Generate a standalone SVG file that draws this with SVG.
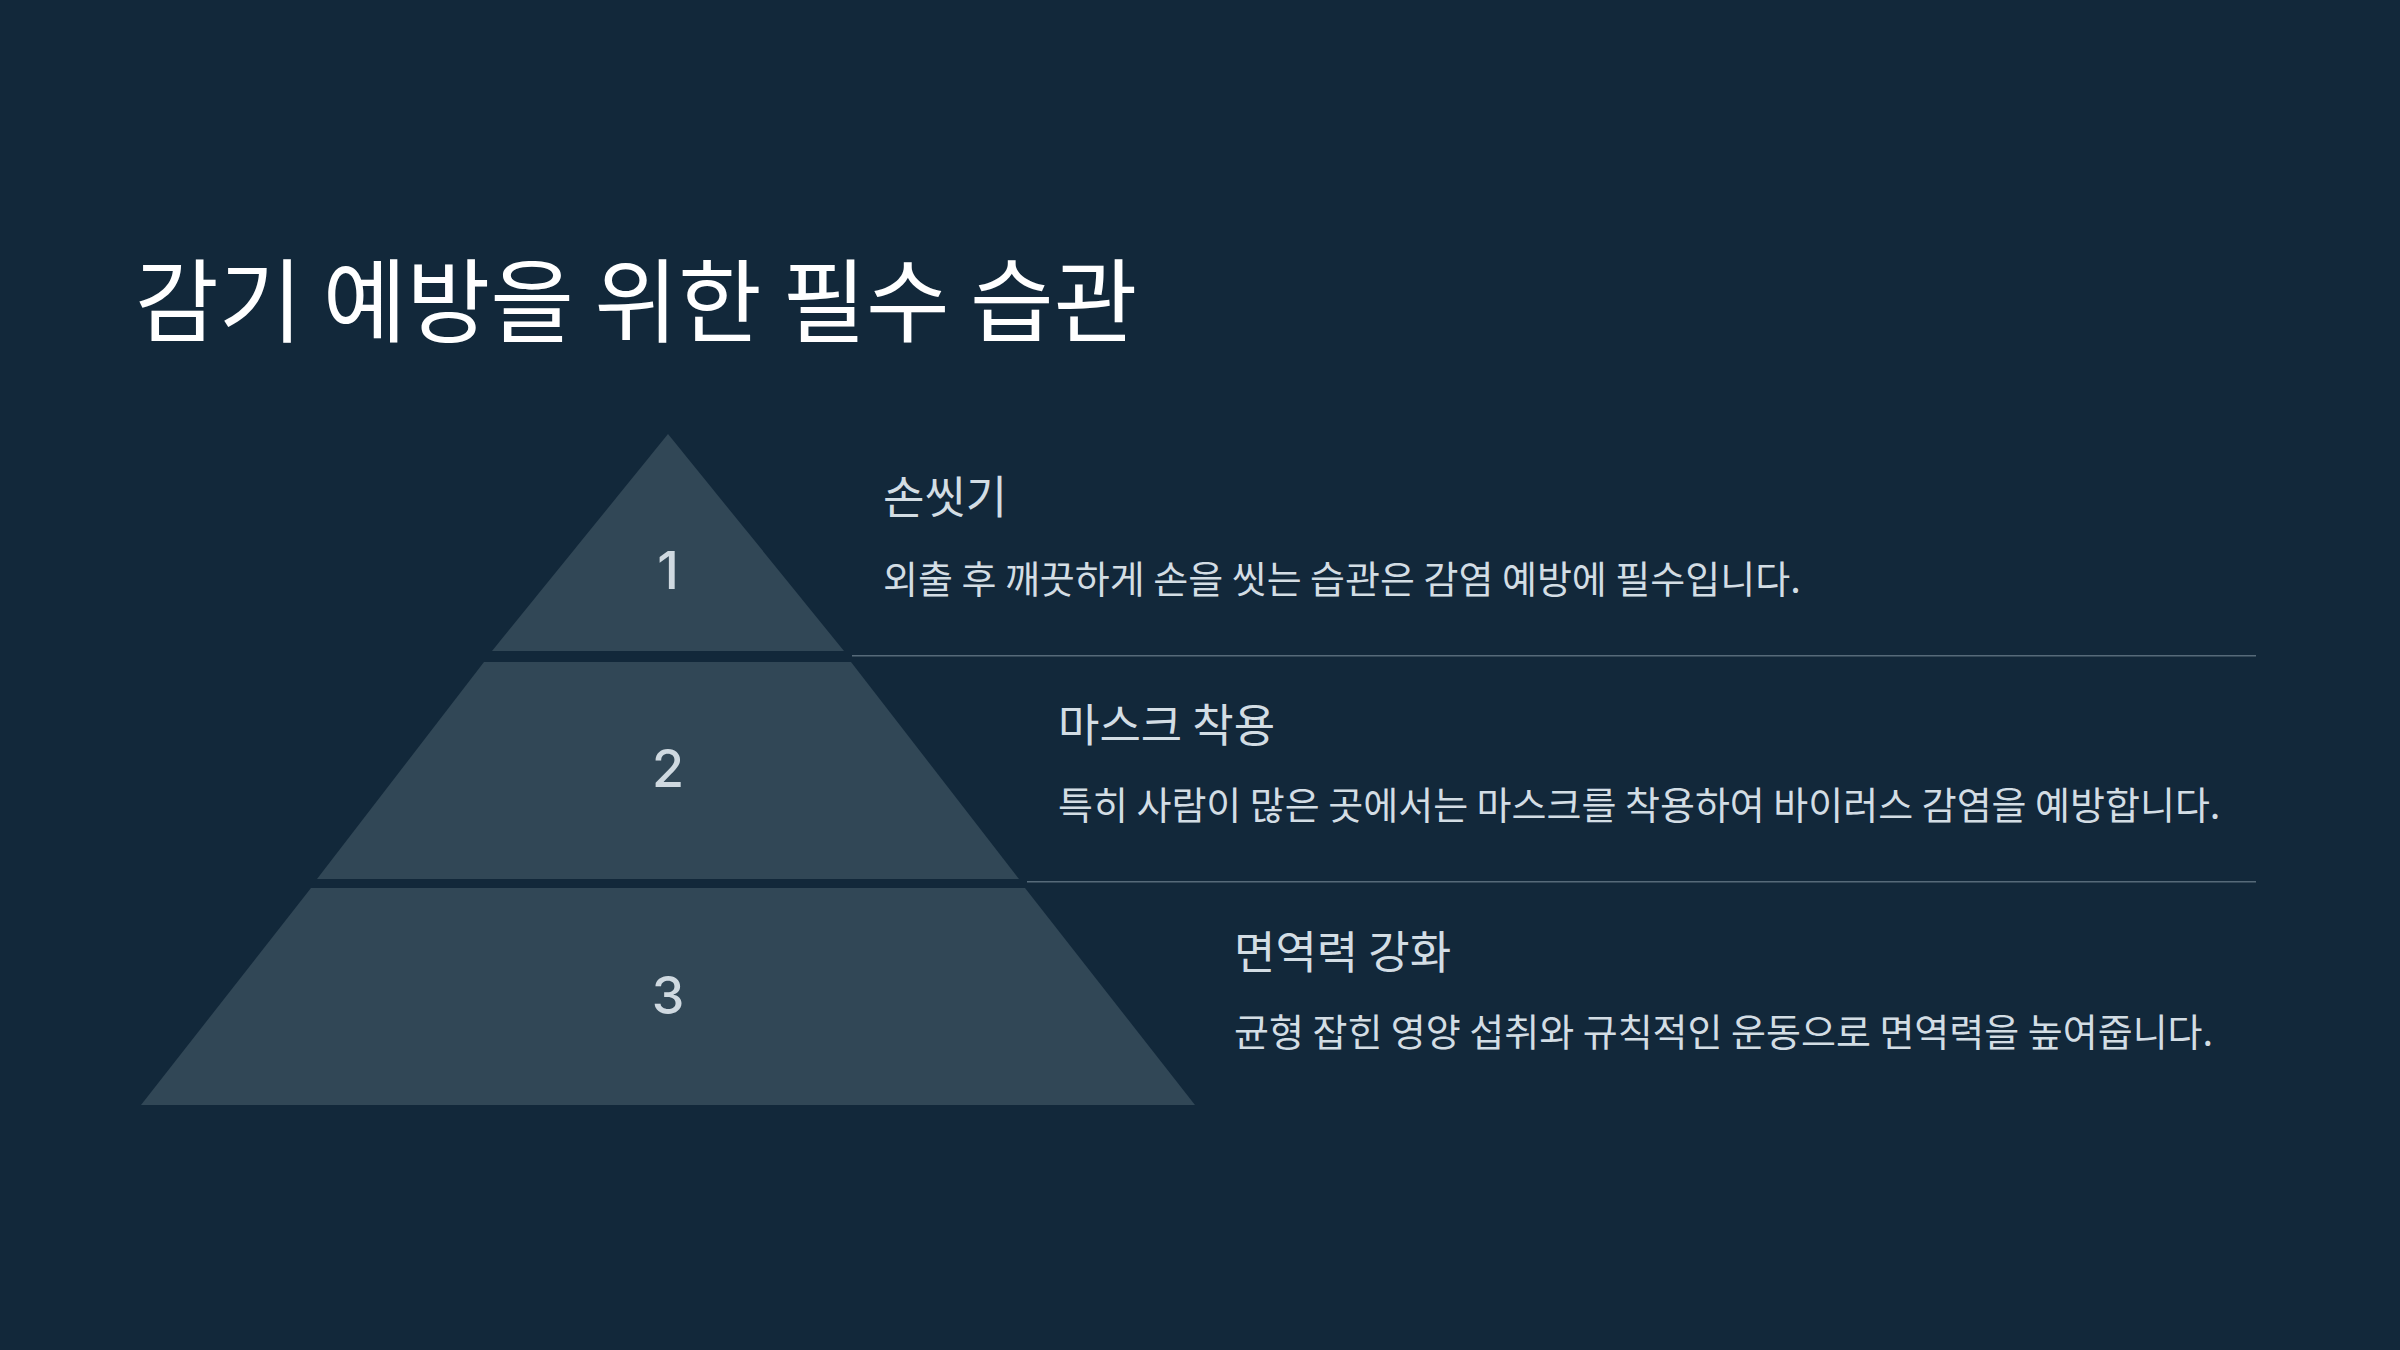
<svg xmlns="http://www.w3.org/2000/svg" width="2400" height="1350" viewBox="0 0 2400 1350">
<style>
.bg{fill:#12283a}
.tier{fill:#314756}
.num{font-family:Inter,"Noto Sans",sans-serif;font-size:52px;font-weight:500;fill:#cfd9e0;text-anchor:middle}
.title{font-family:"Noto Sans CJK KR","Noto Sans",sans-serif;font-size:91px;fill:#ffffff}
.head{font-family:"Noto Sans CJK KR","Noto Sans",sans-serif;font-size:45px;fill:#d3dde4}
.desc{font-family:"Noto Sans CJK KR","Noto Sans",sans-serif;font-size:38px;fill:#d3dde4}
.sep{stroke:#566a79;stroke-width:1.5;fill:none}
</style>
<rect class="bg" x="0" y="0" width="2400" height="1350"/>
<text class="title" x="135" y="335">감기 예방을 위한 필수 습관</text>
<g id="connectors">
<line class="sep" x1="852" y1="655.7" x2="2256" y2="655.7"/>
<line class="sep" x1="1027" y1="881.7" x2="2256" y2="881.7"/>
</g>
<g id="tier1">
<polygon class="tier" points="668,434 844,651 492,651"/>
<text class="num" x="668" y="589">1</text>
<text class="head" x="883" y="514">손씻기</text>
<text class="desc" x="883" y="593">외출 후 깨끗하게 손을 씻는 습관은 감염 예방에 필수입니다.</text>
</g>
<g id="tier2">
<polygon class="tier" points="484,662 851,662 1019,879 317,879"/>
<text class="num" x="668" y="787">2</text>
<text class="head" x="1058" y="742">마스크 착용</text>
<text class="desc" x="1058" y="819">특히 사람이 많은 곳에서는 마스크를 착용하여 바이러스 감염을 예방합니다.</text>
</g>
<g id="tier3">
<polygon class="tier" points="311,888 1025,888 1195,1105 141,1105"/>
<text class="num" x="668" y="1014">3</text>
<text class="head" x="1234" y="969">면역력 강화</text>
<text class="desc" x="1234" y="1046">균형 잡힌 영양 섭취와 규칙적인 운동으로 면역력을 높여줍니다.</text>
</g>
</svg>
